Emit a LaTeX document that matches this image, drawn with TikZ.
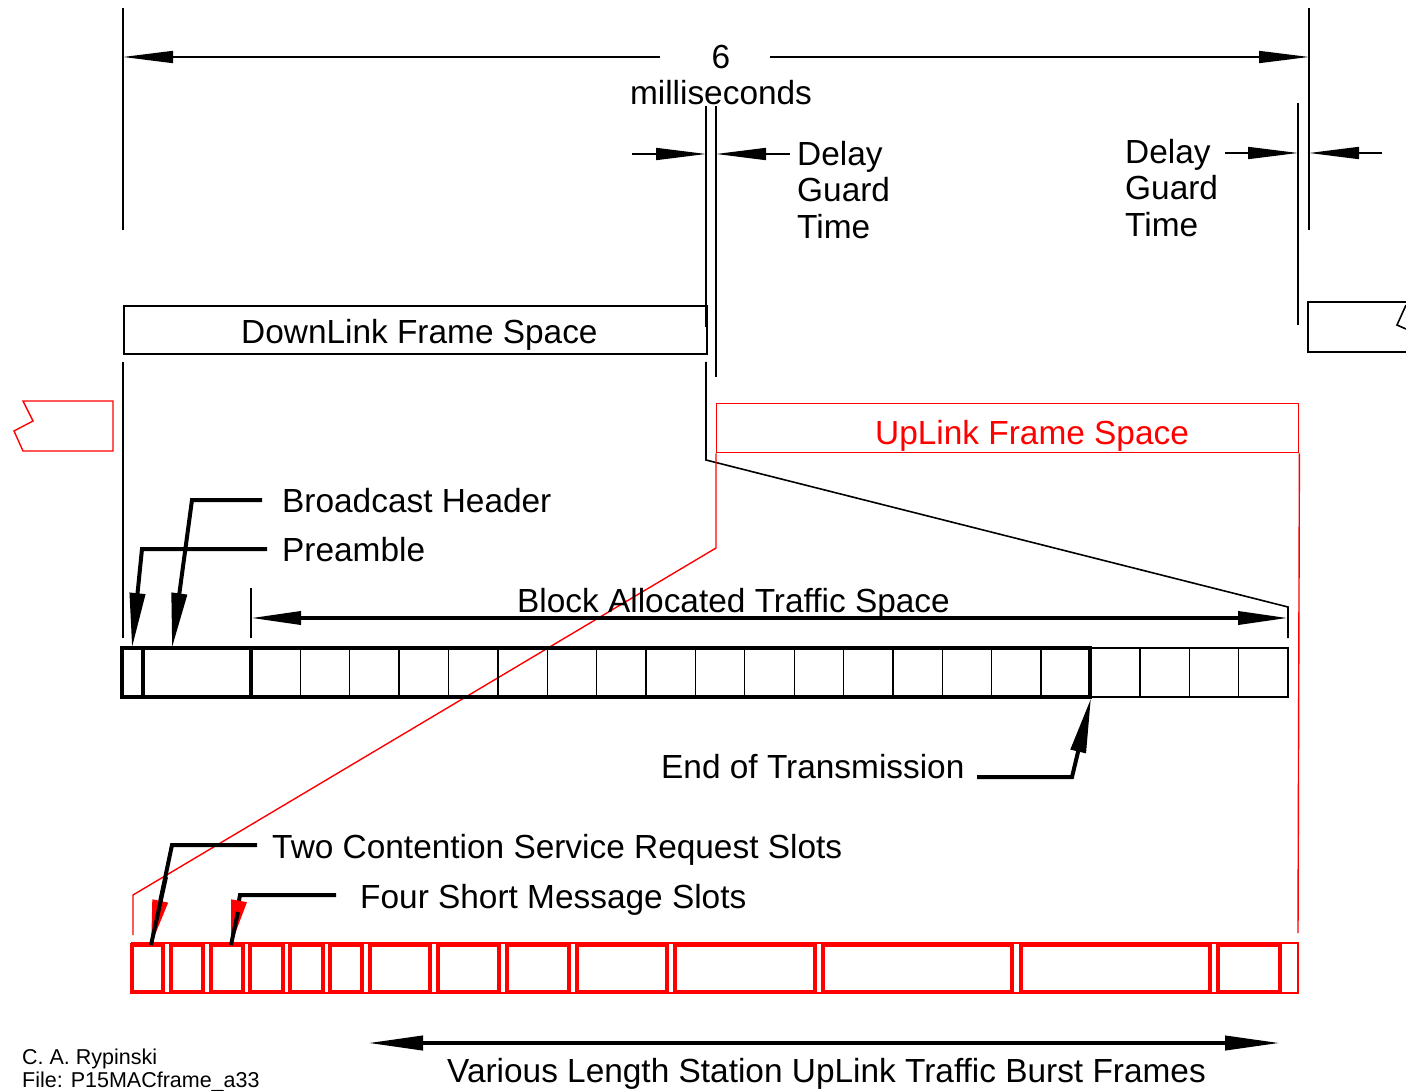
\documentclass[tikz,border=0pt]{standalone}
\usepackage{fontspec}
\setmainfont{Liberation Sans}
\usetikzlibrary{arrows.meta}
\begin{document}
\begin{tikzpicture}[x=1pt,y=-1pt,
  lbl/.style={font=\fontsize{33.4}{36}\selectfont, inner sep=0pt, anchor=base west},
  lblc/.style={lbl, anchor=base},
  small/.style={font=\fontsize{21.5}{23}\selectfont, inner sep=0pt, anchor=base west},
  dim/.style={line width=1.6pt},
  dimtip/.style={-{Triangle[length=50pt,width=12pt]}},
  framebox/.style={draw, line width=1.6pt},
  leader/.style={line width=4pt, line join=miter, -{Triangle[length=55pt,width=15pt]}},
  redthin/.style={draw=red, line width=1.4pt},
  redslot/.style={draw=red, line width=4.4pt},
  slotthin/.style={draw, line width=1.3pt},
  slotthick/.style={draw, line width=3.6pt},
]
\useasboundingbox (0,0) rectangle (1406,1091);

% ---------- coordinates ----------
\coordinate (Ltop) at (123,8);   \coordinate (Lbot) at (123,230);
\coordinate (Rtop) at (1309,8);  \coordinate (Rbot) at (1309,230);
\coordinate (Ldim) at (123,57);  \coordinate (Rdim) at (1309,57);
\coordinate (gapL) at (660,57);  \coordinate (gapR) at (770,57);
\coordinate (g1a) at (706,106);  \coordinate (g1b) at (706,327);
\coordinate (g2a) at (716,106);  \coordinate (g2b) at (716,377);
\coordinate (g3a) at (1298,103); \coordinate (g3b) at (1298,325);
\coordinate (dgLfree) at (632,154); \coordinate (dgLtip) at (706,154);
\coordinate (dgRtip) at (716,154);
\coordinate (dg2tip) at (1298,153); \coordinate (dg3tip) at (1309,153);
\coordinate (dg3free) at (1382,153);

% ---------- top dimension ----------
\draw[dim] (Ltop) -- (Lbot);
\draw[dim] (Rtop) -- (Rbot);
\node[lblc] (six) at (721,69) {6};
\node[lblc] (ms) at (721,105) {milliseconds};
\draw[dim,dimtip] (gapL) -- (Ldim);
\draw[dim,dimtip] (gapR) -- (Rdim);

% ---------- delay guard (left) ----------
\draw[dim] (g1a) -- (g1b);
\draw[dim] (g2a) -- (g2b);
\node[lbl] (dgA1) at (797,166) {Delay};
\node[lbl] (dgA2) at (797,202) {Guard};
\node[lbl] (dgA3) at (797,239) {Time};
\draw[dim,dimtip] (dgLfree) -- (dgLtip);
\draw[dim,dimtip] (dgA1.west |- dgRtip) ++(-7,0) coordinate (dgRfree) -- (dgRtip);

% ---------- delay guard (right) ----------
\draw[dim] (g3a) -- (g3b);
\node[lbl] (dgB1) at (1125,164) {Delay};
\node[lbl] (dgB2) at (1125,200) {Guard};
\node[lbl] (dgB3) at (1125,237) {Time};
\draw[dim,dimtip] (dgB1.east |- dg2tip) ++(14,0) coordinate (dg2free) -- (dg2tip);
\draw[dim,dimtip] (dg3free) -- (dg3tip);

% ---------- frame boxes ----------
\node[framebox, minimum width=583pt, minimum height=48pt, inner sep=0pt, anchor=north west] (dl) at (123,305) {};
\node[lbl] (dlt) at (241,344) {DownLink Frame Space};
\draw[framebox] (1406,302) -- (1308,302) -- (1308,352) -- (1406,352);
\draw[framebox] (1406,305) -- (1397,325) -- (1406,329);

\draw[redthin] (23,401) -- (113,401) -- (113,451) -- (23,451) -- (14,431) -- (33,421) -- cycle;

\node[redthin, minimum width=582pt, minimum height=49pt, inner sep=0pt, anchor=north west] (ul) at (716,403) {};
\node[lbl, text=red] (ult) at (875,444) {UpLink Frame Space};

% ---------- expansion lines ----------
\draw[dim] (123,362) -- (123,638);
\draw[dim] (706,362) -- (706,460) -- (1288,607) -- (1288,638);
\draw[dim] (251,588) -- (251,638);
\draw[redthin] (ul.south west) -- (716,548) -- (133,895) -- (133,935);
\draw[redthin] (ul.south east) -- (1298,933);

% ---------- block allocated traffic ----------
\node[lbl] (bat) at (517,612) {Block Allocated Traffic Space};
\draw[line width=3.6pt, {Triangle[length=50pt,width=13pt]}-{Triangle[length=50pt,width=13pt]}] (251,618) -- (1288,618);

% ---------- downlink slot bar ----------
\draw[slotthin] (1090,648) rectangle (1288,697);
\foreach \i in {1,...,16,18,19,20} {
  \draw[slotthin] ({251+\i*49.38},648) -- ({251+\i*49.38},697);
}
\draw[slotthick] (122,648) rectangle (1090,697);
\draw[slotthick] (143,648) -- (143,697);
\draw[slotthick] (251,648) -- (251,697);

% ---------- leaders (downlink) ----------
\node[lbl] (bh) at (282,512) {Broadcast Header};
\node[lbl] (pre) at (282,561) {Preamble};
\draw[leader] (262,500) -- (192,500) -- (172,648);
\draw[leader] (267,549) -- (142,549) -- (132,648);

\node[lbl] (eot) at (661,778) {End of Transmission};
\draw[leader] (977,777) -- (1072,777) -- (1091,698);

% ---------- uplink slots ----------
\draw[redthin] (132,943) rectangle (1298,993);
\foreach \a/\b in {132/163,171/203,211/243,250/283,290/323,330/362,370/430,438/499,507/569,577/667,675/815,823/1012,1021/1210,1218/1280} {
  \draw[redslot] (\a,945) rectangle (\b,992);
}

\node[lbl] (tc) at (272,858) {Two Contention Service Request Slots};
\node[lbl] (fs) at (360,908) {Four Short Message Slots};
\draw[line width=4pt, -{Triangle[color=red,length=45pt,width=15pt]}] (257,845) -- (172,845) -- (151,945);
\draw[line width=4pt] (166,877) -- (151,945);
\draw[line width=4pt, -{Triangle[color=red,length=45pt,width=15pt]}] (336,895) -- (240,895) -- (231,945);
\draw[line width=4pt] (238,912) -- (231,945);

% ---------- bottom ----------
\draw[line width=4pt, {Triangle[length=55pt,width=14pt]}-{Triangle[length=55pt,width=14pt]}] (368,1043) -- (1280,1043);
\node[lbl] (vl) at (447,1082) {Various Length Station UpLink Traffic Burst Frames};
\node[small] (auth) at (22,1064) {C. A. Rypinski};
\node[small] (file) at (22,1087) {File: P15MACframe\_a33};
\end{tikzpicture}
\end{document}
